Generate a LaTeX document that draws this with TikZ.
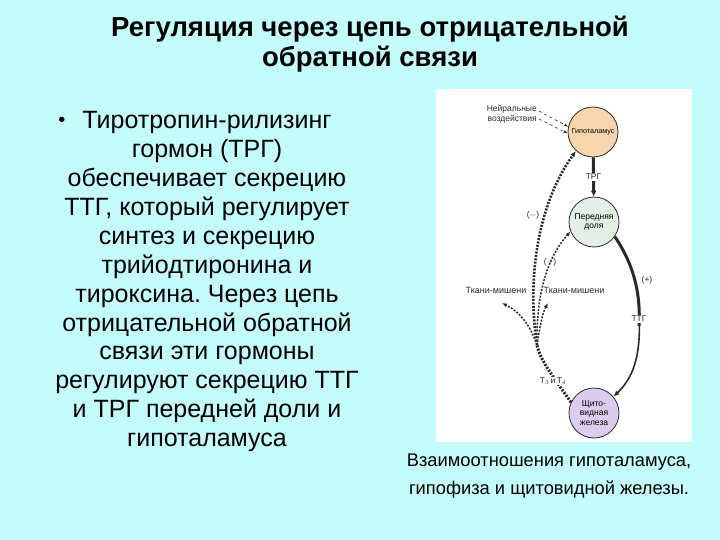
\documentclass[tikz,border=0pt]{standalone}
\usepackage{fontspec}
\setmainfont{Liberation Sans}
\frenchspacing
\usetikzlibrary{arrows.meta,positioning}
\definecolor{TBack}{HTML}{C4FBFB}
\definecolor{THypo}{HTML}{F7D6AE}
\definecolor{TAnt}{HTML}{E3EFE4}
\definecolor{TThyr}{HTML}{DCCCEE}
\definecolor{TLine}{HTML}{2A2A2A}
\begin{document}
\begin{tikzpicture}[
  x=1pt,y=-1pt,
  gland/.style={circle,draw=TLine,line width=0.8pt,minimum size=50pt,
    inner sep=0pt,align=center,font=\fontsize{8.5}{9.5}\selectfont},
  lbl/.style={font=\fontsize{8.5}{9.5}\selectfont,text=TLine,inner sep=1pt},
  fb/.style={-{Latex[length=6pt,width=5pt]},draw=TLine,line width=2.6pt,
    dash pattern=on 2pt off 1.4pt},
  fbthin/.style={-{Latex[length=5pt,width=4pt]},draw=TLine,line width=1.5pt,
    dash pattern=on 2pt off 1.4pt},
  stim/.style={draw=TLine,line width=3pt}
]
  \useasboundingbox (0,0) rectangle (720,540);
  \fill[TBack] (0,0) rectangle (720,540);
  % title
  \node[font=\bfseries\fontsize{27.5}{30}\selectfont,align=center] (title) at (370,44)
    {Регуляция через цепь отрицательной\\обратной связи};
  % bullet text
  \node[font=\fontsize{20}{28.9}\selectfont] (dot) at (62,122) {•};
  \node[font=\fontsize{25}{28.9}\selectfont,align=center,anchor=north] (body) at (207,108)
    {Тиротропин-рилизинг\\гормон (ТРГ)\\обеспечивает секрецию\\ТТГ, который регулирует\\
     синтез и секрецию\\трийодтиронина и\\тироксина. Через цепь\\отрицательной обратной\\
     связи эти гормоны\\регулируют секрецию ТТГ\\и ТРГ передней доли и\\гипоталамуса};
  % figure panel
  \fill[white] (436,89) rectangle (692,442);
  \node[gland,fill=THypo,font=\fontsize{7.2}{8}\selectfont] (hypo) at (593,132) {Гипоталамус};
  \node[gland,fill=TAnt] (ant) at (594,222) {Передняя\\доля};
  \node[gland,fill=TThyr] (thyr) at (594,413) {Щито-\\видная\\железа};
  \node[lbl,align=right,anchor=east] (nerve) at (538,114) {Нейральные\\воздействия};
  \node[lbl,font=\fontsize{9}{10}\selectfont] (tisL) at (496,290) {Ткани-мишени};
  \node[lbl,font=\fontsize{9}{10}\selectfont] (tisR) at (574,290) {Ткани-мишени};
  \coordinate (fork) at (537,345);
  % hypothalamus -> anterior lobe
  \draw[stim,-{Latex[length=6pt,width=6pt]}] (hypo) -- node[lbl,fill=white]{ТРГ} (ant);
  % anterior lobe -> thyroid
  \coordinate (tsh) at (639,319);
  \draw[stim] (ant.-35) .. controls (632,262) and (641,290) .. ([yshift=-7]tsh);
  \draw[draw=TLine,line width=1.6pt,-{Latex[length=6pt,width=5pt]}]
    ([yshift=7]tsh) .. controls (641,350) and (636,375) .. (thyr.40);
  \node[lbl,fill=white] at (tsh) {ТТГ};
  \node[lbl] at (647,280) {(+)};
  % nerve input
  \draw[TLine,line width=0.6pt,dashed,-{Latex[length=4pt,width=3pt]}] (539,111) -- (hypo.168);
  \draw[TLine,line width=0.6pt,dashed,-{Latex[length=4pt,width=3pt]}] (539,119) -- (hypo.183);
  % feedback from thyroid
  \draw[draw=TLine,line width=3pt,dash pattern=on 2pt off 1.4pt] (thyr.155) .. controls (552,375) and (540,360) .. (fork);
  \node[lbl,fill=white] at (553,381) {T$_3$\,и\,T$_4$};
  \draw[fb] (fork) .. controls (527,280) and (537,205) .. (hypo.228);
  \node[lbl] at (533,215) {($-$)};
  \draw[fbthin] (fork) .. controls (536,300) and (545,260) .. (ant.202);
  \node[lbl] at (550,262) {($-$)};
  \draw[fbthin] (fork) .. controls (530,325) and (520,312) .. (502,303);
  \draw[fbthin] (fork) .. controls (540,325) and (543,312) .. (548,303);
  % caption
  \node[font=\fontsize{18.3}{28}\selectfont,align=center] (cap) at (549,476)
    {Взаимоотношения гипоталамуса,\\гипофиза и щитовидной железы.};
\end{tikzpicture}
\end{document}
